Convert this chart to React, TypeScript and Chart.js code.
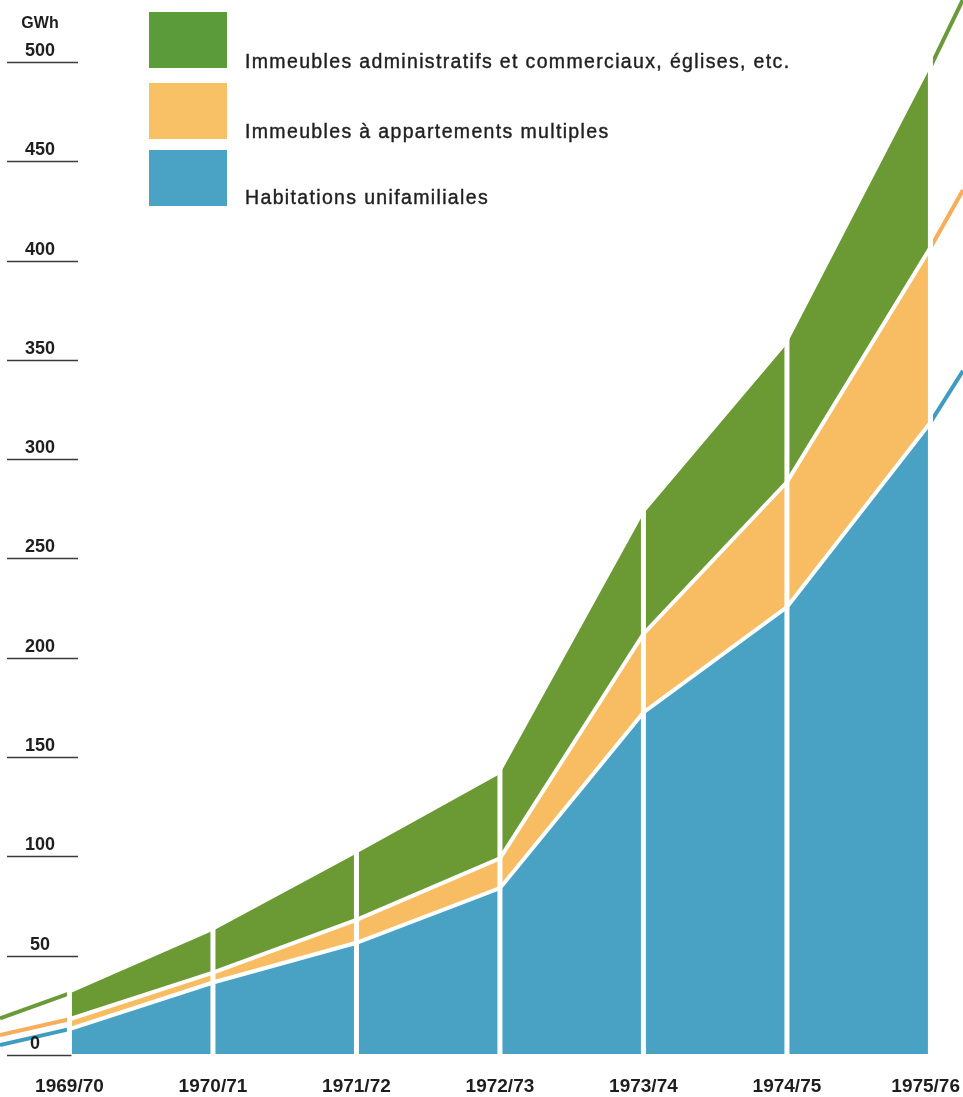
import React, { useEffect, useRef } from 'react';
import { Chart, registerables } from 'chart.js';

Chart.register(...registerables);

// Seasons (x categories)
const years = ['1969/70', '1970/71', '1971/72', '1972/73', '1973/74', '1974/75', '1975/76'];

// Consumption per building type, GWh (stacked in the picture)
const habitations = [12.5, 36, 56, 83.5, 172, 225, 318];
const appartements = [5, 5, 11.5, 15, 39.5, 63, 88];
const administratifs = [13, 21, 33.5, 42.5, 60.5, 69.5, 91];

// Values of the thin lines that continue before the first / after the last season
const habitationsEdges = [4.5, 344];
const appartementsEdges = [5, 91];
const administratifsEdges = [8.5, 96];

// Axis ticks
const yTicks = [0, 50, 100, 150, 200, 250, 300, 350, 400, 450, 500];
const yUnit = 'GWh';

// Legend
const legendLabels = [
  'Immeubles administratifs et commerciaux, églises, etc.',
  'Immeubles à appartements multiples',
  'Habitations unifamiliales',
];

const X_MIN = -0.484;
const X_MAX = 6.227;
const Y_MAX = 530.7;

const GREEN = '#6b9a35';
const ORANGE = '#f8bd62';
const BLUE = '#49a2c3';
const GREEN_LINE = '#6a9a3a';
const ORANGE_LINE = '#f6ad5c';
const BLUE_LINE = '#3f9cc0';
const LEGEND_COLORS = ['#5b9b3a', '#f9c165', '#4aa3c4'];
const FONT = '"Liberation Sans", Arial, Helvetica, sans-serif';

export default function App() {
  const ref = useRef<HTMLCanvasElement>(null);

  useEffect(() => {
    const blueTop = habitations.slice();
    const orangeTop = blueTop.map((v, i) => v + appartements[i]);
    const greenTop = orangeTop.map((v, i) => v + administratifs[i]);

    const blueEdge = habitationsEdges.slice();
    const orangeEdge = blueEdge.map((v, i) => v + appartementsEdges[i]);
    const greenEdge = orangeEdge.map((v, i) => v + administratifsEdges[i]);

    const last = years.length - 1;
    const pts = (arr: number[]) => arr.map((y, i) => ({ x: i, y }));
    const edgePts = (top: number[], edge: number[]) => [
      { x: X_MIN, y: edge[0] },
      { x: 0, y: top[0] },
      { x: last / 2, y: null },
      { x: last, y: top[last] },
      { x: X_MAX, y: edge[1] },
    ];

    const decor = {
      id: 'decor',
      afterDatasetsDraw(chart: any) {
        const ctx = chart.ctx as CanvasRenderingContext2D;
        const xs = chart.scales.x;
        const ys = chart.scales.y;
        ctx.save();
        // white separators between seasons
        ctx.strokeStyle = '#ffffff';
        ctx.lineWidth = 5;
        years.forEach((_, i) => {
          const px = xs.getPixelForValue(i);
          ctx.beginPath();
          ctx.moveTo(px, 0);
          ctx.lineTo(px, ys.getPixelForValue(0) + 0.5);
          ctx.stroke();
        });
        // y ticks: underlined labels
        ctx.strokeStyle = '#3a3a3a';
        ctx.lineWidth = 1.5;
        ctx.fillStyle = '#1e1e1e';
        ctx.textAlign = 'center';
        ctx.textBaseline = 'alphabetic';
        ctx.font = `bold 18px ${FONT}`;
        const firstX = xs.getPixelForValue(0);
        yTicks.forEach((v) => {
          const py = Math.round(ys.getPixelForValue(v)) + 1;
          const end = v === 0 ? Math.min(78, firstX + 2) : 78;
          ctx.beginPath();
          ctx.moveTo(7, py + 0.5);
          ctx.lineTo(end, py + 0.5);
          ctx.stroke();
          ctx.fillText(String(v), v === 0 ? 35 : 40, py - 6);
        });
        ctx.font = `bold 16px ${FONT}`;
        ctx.fillText(yUnit, 40, 28);
        // x labels
        ctx.font = `bold 19px ${FONT}`;
        years.forEach((label, i) => {
          let px = xs.getPixelForValue(i);
          const w = ctx.measureText(label).width;
          px = Math.min(px, chart.width - 3 - w / 2);
          ctx.fillText(label, px, 1092);
        });
        ctx.restore();
      },
    };

    const chart = new Chart(ref.current as HTMLCanvasElement, {
      type: 'line',
      data: {
        datasets: [
          {
            label: legendLabels[2],
            data: pts(blueTop),
            backgroundColor: BLUE,
            borderColor: '#ffffff',
            borderWidth: 4,
            fill: 'origin',
            pointRadius: 0,
            tension: 0,
          },
          {
            label: legendLabels[1],
            data: pts(orangeTop),
            backgroundColor: ORANGE,
            borderColor: '#ffffff',
            borderWidth: 4,
            fill: '-1',
            pointRadius: 0,
            tension: 0,
          },
          {
            label: legendLabels[0],
            data: pts(greenTop),
            backgroundColor: GREEN,
            borderColor: GREEN,
            borderWidth: 0,
            fill: '-1',
            pointRadius: 0,
            tension: 0,
          },
          {
            label: 'edge-blue',
            data: edgePts(blueTop, blueEdge) as any,
            borderColor: BLUE_LINE,
            borderWidth: 4,
            fill: false,
            pointRadius: 0,
            spanGaps: false,
            tension: 0,
          },
          {
            label: 'edge-orange',
            data: edgePts(orangeTop, orangeEdge) as any,
            borderColor: ORANGE_LINE,
            borderWidth: 4,
            fill: false,
            pointRadius: 0,
            spanGaps: false,
            tension: 0,
          },
          {
            label: 'edge-green',
            data: edgePts(greenTop, greenEdge) as any,
            borderColor: GREEN_LINE,
            borderWidth: 4,
            fill: false,
            pointRadius: 0,
            spanGaps: false,
            tension: 0,
          },
        ],
      },
      options: {
        animation: false,
        responsive: false,
        maintainAspectRatio: false,
        layout: { padding: { top: 0, left: 0, right: 0, bottom: 43 } },
        plugins: {
          legend: { display: false },
          tooltip: { enabled: false },
        },
        scales: {
          x: { type: 'linear', min: X_MIN, max: X_MAX, display: false },
          y: { type: 'linear', min: 0, max: Y_MAX, display: false },
        },
      },
      plugins: [decor],
    });
    return () => chart.destroy();
  }, []);

  const tops = [12, 83, 150];
  const textTops = [52, 122, 188];

  return (
    <div style={{ position: 'absolute', left: 0, top: 0, width: 963, height: 1097, background: '#ffffff', overflow: 'hidden' }}>
      <canvas ref={ref} width={963} height={1097} style={{ display: 'block' }} />
      {legendLabels.map((label, i) => (
        <React.Fragment key={label}>
          <div
            style={{
              position: 'absolute',
              left: 149,
              top: tops[i],
              width: 78,
              height: 56,
              background: LEGEND_COLORS[i],
            }}
          />
          <div
            style={{
              position: 'absolute',
              left: 245,
              top: textTops[i],
              fontFamily: FONT,
              fontSize: 19.5,
              lineHeight: '19px',
              letterSpacing: '1.35px',
              color: '#1f1f1f',
              whiteSpace: 'nowrap',
              WebkitTextStroke: '0.4px #1f1f1f',
            }}
          >
            {label}
          </div>
        </React.Fragment>
      ))}
    </div>
  );
}
